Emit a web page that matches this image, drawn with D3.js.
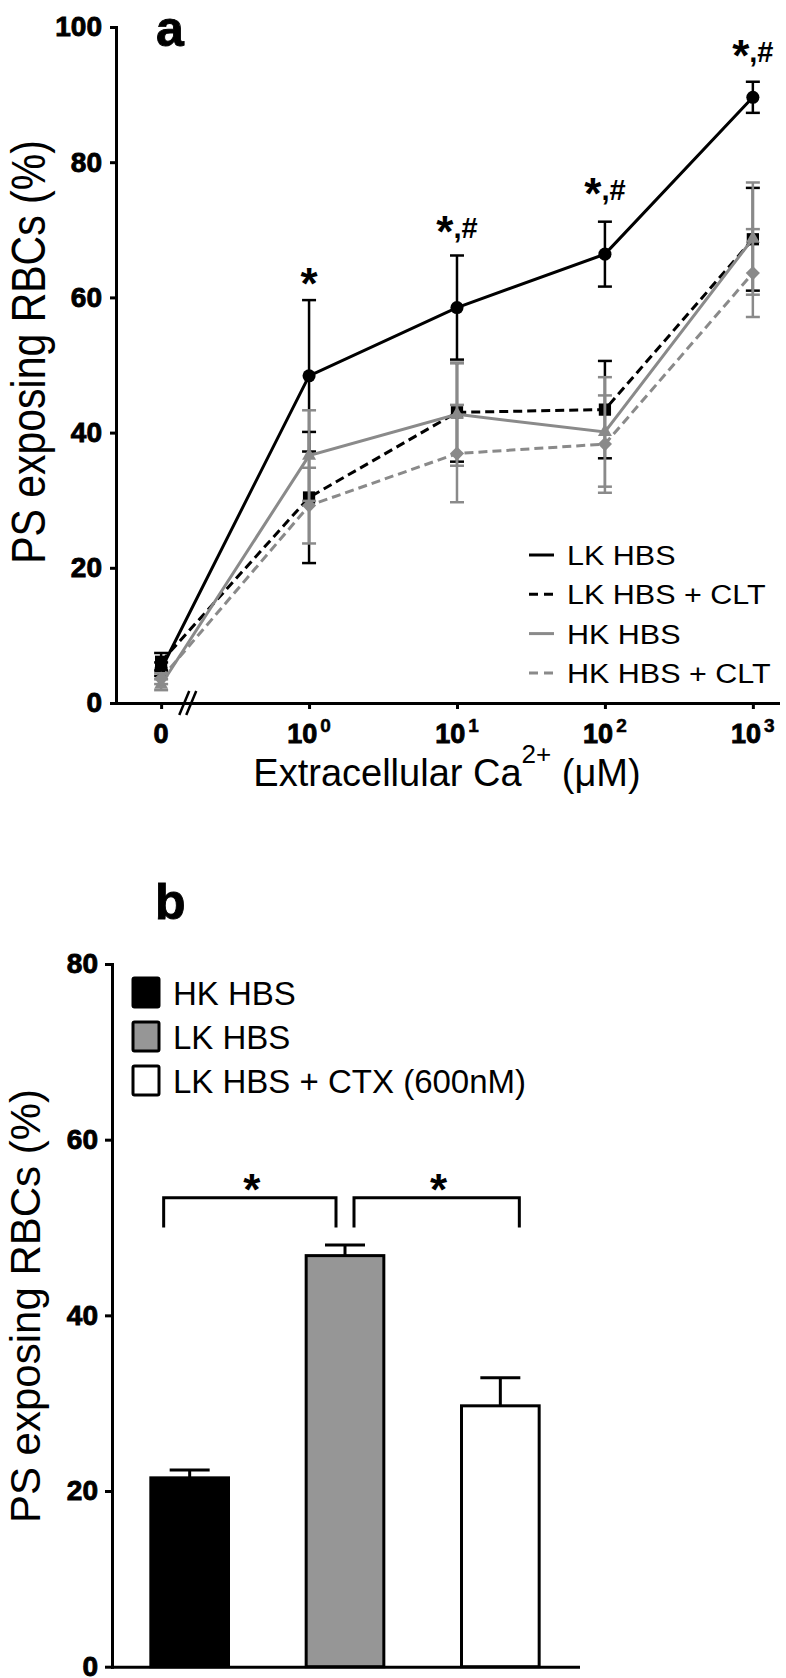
<!DOCTYPE html>
<html><head><meta charset="utf-8">
<script src="https://cdn.jsdelivr.net/npm/d3@7"></script>
<style>
body{margin:0;background:#fff}
svg{display:block}
text{font-family:"Liberation Sans",Arial,Helvetica,sans-serif;fill:#000}
</style>
</head><body>
<svg id="c" width="786" height="1678"></svg>
<script>
// ---------- Panel a data ----------
const xIndex = [0, 1, 2, 3, 4];
const xTickBase = ["0", "10", "10", "10", "10"];
const xTickExp = ["", "0", "1", "2", "3"];
const yTicksA = [0, 20, 40, 60, 80, 100];
const seriesNames = ["LK HBS", "LK HBS + CLT", "HK HBS", "HK HBS + CLT"];
const lkHbsMean = [5.0, 48.4, 58.5, 66.4, 89.6];
const lkHbsSem  = [1.0, 11.2, 7.7, 4.8, 2.3];
const lkCltMean = [6.1, 30.4, 43.0, 43.4, 68.6];
const lkCltSem  = [1.3, 9.7, 7.3, 7.2, 7.6];
const hkHbsMean = [2.7, 36.6, 42.7, 40.1, 68.7];
const hkHbsSem  = [0.8, 6.7, 7.6, 8.1, 8.3];
const hkCltMean = [3.6, 29.2, 36.9, 38.3, 63.6];
const hkCltSem  = [0.8, 5.6, 7.2, 7.2, 6.5];
const sigIndex = [1, 2, 3, 4];
const sigStar = ["*", "*", "*", "*"];
const sigHash = ["", ",#", ",#", ",#"];
const sigY = [61.1, 68.8, 74.4, 94.8];
const breakAt = 0.18;

// ---------- Panel b data ----------
const barCats = ["HK HBS", "LK HBS", "LK HBS + CTX (600nM)"];
const barMean = [21.5, 46.8, 29.7];
const barSem  = [0.9, 1.2, 3.2];
const yTicksB = [0, 20, 40, 60, 80];
const bracketFrom = [0, 1];
const bracketTo = [1, 2];
const bracketTop = 53.4;
const bracketLeg = 50.0;

// ---------- styles ----------
const GRAY = "#8a8a8a";
const seriesColor = ["#000", "#000", GRAY, GRAY];
const seriesDash = [null, "9,5", null, "9,5"];
const barFill = ["#000", "#969696", "#fff"];
const heavy = sel => sel.attr("font-weight", "bold").attr("stroke", "#000").attr("stroke-width", 0.9);

const svg = d3.select("#c");

// ================= PANEL A =================
const series = [
  {mean: lkHbsMean, sem: lkHbsSem},
  {mean: lkCltMean, sem: lkCltSem},
  {mean: hkHbsMean, sem: hkHbsSem},
  {mean: hkCltMean, sem: hkCltSem}
];
const xA = d3.scaleLinear().domain([-0.305, 4.17]).range([116, 778]);
const yA = d3.scaleLinear().domain([0, 100]).range([703, 27]);

const gA = svg.append("g");

const yAxA = gA.append("g").attr("transform", `translate(${xA.range()[0]},0)`)
  .call(d3.axisLeft(yA).tickValues(yTicksA).tickSize(6).tickSizeOuter(0).tickPadding(8));
const xAxA = gA.append("g").attr("transform", `translate(0,${yA(0)})`)
  .call(d3.axisBottom(xA).tickValues(xIndex).tickSize(6).tickSizeOuter(0).tickFormat(""));

[yAxA, xAxA].forEach(ax => {
  ax.selectAll("path.domain").attr("stroke", "#000").attr("stroke-width", 3).attr("stroke-linecap", "square");
  ax.selectAll(".tick line").attr("stroke", "#000").attr("stroke-width", 3);
});
yAxA.selectAll(".tick text").attr("font-size", 28)
  .attr("font-family", "'Liberation Sans',Arial,sans-serif").attr("fill", "#000").call(heavy);

// x tick labels with superscripts
xIndex.forEach((v, i) => {
  const t = gA.append("text").attr("x", xA(v)).attr("y", yA(0) + 40)
    .attr("text-anchor", "middle").attr("font-size", 27).call(heavy);
  t.append("tspan").text(xTickBase[i]);
  if (xTickExp[i]) t.append("tspan").attr("dx", 3).attr("dy", -11).attr("font-size", 19).attr("stroke-width", 0.5).text(xTickExp[i]);
});

// axis break //
[-3.5, 3.5].forEach(off => {
  gA.append("line")
    .attr("x1", xA(breakAt) + off - 5).attr("y1", yA(0) + 12)
    .attr("x2", xA(breakAt) + off + 5).attr("y2", yA(0) - 12)
    .attr("stroke", "#000").attr("stroke-width", 2.5);
});

// y-axis title
gA.append("text")
  .attr("transform", `translate(45,${(yA(100) + yA(0)) / 2 - 13}) scale(1.19,1) rotate(-90)`)
  .attr("text-anchor", "middle").attr("font-size", 41)
  .text("PS exposing RBCs (%)");

// x-axis title
const xt = gA.append("text").attr("x", (xA.range()[0] + xA.range()[1]) / 2).attr("y", 786)
  .attr("text-anchor", "middle").attr("font-size", 38);
xt.append("tspan").text("Extracellular Ca");
xt.append("tspan").attr("dy", -23).attr("font-size", 26).text("2+");
xt.append("tspan").attr("dy", 23).text(" (\u03bcM)");

// panel letter
gA.append("text").attr("x", 156).attr("y", 46).attr("font-size", 50).call(heavy).text("a");

// series
const symbols = [
  {type: d3.symbolCircle, size: 135, rot: 0},
  {type: d3.symbolSquare, size: 150, rot: 0},
  {type: d3.symbolTriangle, size: 85, rot: 0},
  {type: d3.symbolSquare, size: 100, rot: 45}
];
series.forEach((s, si) => {
  const g = gA.append("g");
  const pts = xIndex.map((v, i) => ({x: v, m: s.mean[i], e: s.sem[i]}));
  pts.forEach(p => {
    g.append("line").attr("x1", xA(p.x)).attr("x2", xA(p.x)).attr("y1", yA(p.m - p.e)).attr("y2", yA(p.m + p.e))
      .attr("stroke", seriesColor[si]).attr("stroke-width", 2.5);
    [p.m - p.e, p.m + p.e].forEach(v => {
      g.append("line").attr("x1", xA(p.x) - 7).attr("x2", xA(p.x) + 7).attr("y1", yA(v)).attr("y2", yA(v))
        .attr("stroke", seriesColor[si]).attr("stroke-width", 2.5);
    });
  });
  g.append("path").datum(pts)
    .attr("d", d3.line().x(d => xA(d.x)).y(d => yA(d.m)))
    .attr("fill", "none").attr("stroke", seriesColor[si]).attr("stroke-width", 3)
    .attr("stroke-dasharray", seriesDash[si]);
  const sym = d3.symbol().type(symbols[si].type).size(symbols[si].size);
  g.selectAll("path.m").data(pts).enter().append("path").attr("class", "m")
    .attr("d", sym)
    .attr("transform", d => `translate(${xA(d.x)},${yA(d.m)}) rotate(${symbols[si].rot})`)
    .attr("fill", seriesColor[si]);
});

// significance labels
sigIndex.forEach((v, i) => {
  const t = gA.append("text").attr("x", xA(v)).attr("y", yA(sigY[i]))
    .attr("text-anchor", "middle").attr("font-weight", "bold");
  t.append("tspan").attr("font-size", 44).attr("dy", 9).text(sigStar[i]);
  if (sigHash[i]) t.append("tspan").attr("font-size", 29).attr("dy", -9).text(sigHash[i]);
});

// legend a
seriesNames.forEach((n, i) => {
  const by = 565 + i * 39.3;
  gA.append("line").attr("x1", 529).attr("x2", 554).attr("y1", by - 10).attr("y2", by - 10)
    .attr("stroke", seriesColor[i]).attr("stroke-width", 3).attr("stroke-dasharray", seriesDash[i] ? "9,6" : null);
  gA.append("text").attr("transform", `translate(567,${by}) scale(1.13,1)`)
    .attr("font-size", 27).text(n);
});

// ================= PANEL B =================
const xB = d3.scaleBand().domain(barCats).range([112, 578]).paddingInner(0.5).paddingOuter(0.25);
const yB = d3.scaleLinear().domain([0, 80]).range([1666.7, 964]);
const gB = svg.append("g");

const yAxB = gB.append("g").attr("transform", `translate(${xB.range()[0]},0)`)
  .call(d3.axisLeft(yB).tickValues(yTicksB).tickSize(7).tickSizeOuter(0).tickPadding(7));
const xAxB = gB.append("g").attr("transform", `translate(0,${yB(0)})`)
  .call(d3.axisBottom(xB).tickSize(0).tickSizeOuter(0).tickFormat(""));
[yAxB, xAxB].forEach(ax => {
  ax.selectAll("path.domain").attr("stroke", "#000").attr("stroke-width", 3).attr("stroke-linecap", "square");
  ax.selectAll(".tick line").attr("stroke", "#000").attr("stroke-width", 3);
});
yAxB.selectAll(".tick text").attr("font-size", 28)
  .attr("font-family", "'Liberation Sans',Arial,sans-serif").attr("fill", "#000").call(heavy);

gB.append("text")
  .attr("transform", `translate(40,1306) rotate(-90)`)
  .attr("text-anchor", "middle").attr("font-size", 42)
  .text("PS exposing RBCs (%)");

gB.append("text").attr("x", 155).attr("y", 919).attr("font-size", 50).call(heavy).text("b");

// bars
barCats.forEach((c, i) => {
  const cx = xB(c) + xB.bandwidth() / 2;
  gB.append("line").attr("x1", cx).attr("x2", cx).attr("y1", yB(barMean[i])).attr("y2", yB(barMean[i] + barSem[i]))
    .attr("stroke", "#000").attr("stroke-width", 3);
  gB.append("line").attr("x1", cx - 20).attr("x2", cx + 20).attr("y1", yB(barMean[i] + barSem[i])).attr("y2", yB(barMean[i] + barSem[i]))
    .attr("stroke", "#000").attr("stroke-width", 3);
  gB.append("rect").attr("x", xB(c)).attr("y", yB(barMean[i]))
    .attr("width", xB.bandwidth()).attr("height", yB(0) - yB(barMean[i]))
    .attr("fill", barFill[i]).attr("stroke", "#000").attr("stroke-width", 3);
});

// brackets
bracketFrom.forEach((f, i) => {
  const cf = xB(barCats[f]) + xB.bandwidth() / 2;
  const ct = xB(barCats[bracketTo[i]]) + xB.bandwidth() / 2;
  const x1 = cf + (f === 0 ? -26 : 9);
  const x2 = ct + (bracketTo[i] === barCats.length - 1 ? 19 : -9);
  gB.append("path")
    .attr("d", `M${x1},${yB(bracketLeg)}V${yB(bracketTop)}H${x2}V${yB(bracketLeg)}`)
    .attr("fill", "none").attr("stroke", "#000").attr("stroke-width", 3);
  gB.append("text").attr("x", (x1 + x2) / 2 + 2).attr("y", yB(bracketTop) + 7)
    .attr("text-anchor", "middle").attr("font-size", 44).attr("font-weight", "bold").text("*");
});

// legend b
barCats.forEach((c, i) => {
  const top = 978 + i * 44;
  gB.append("rect").attr("x", 133).attr("y", top).attr("width", 26).attr("height", 29)
    .attr("rx", 1.5).attr("fill", barFill[i]).attr("stroke", "#000").attr("stroke-width", 3);
  gB.append("text").attr("x", 173).attr("y", top + 27).attr("font-size", 33).text(c);
});
</script>
</body></html>
